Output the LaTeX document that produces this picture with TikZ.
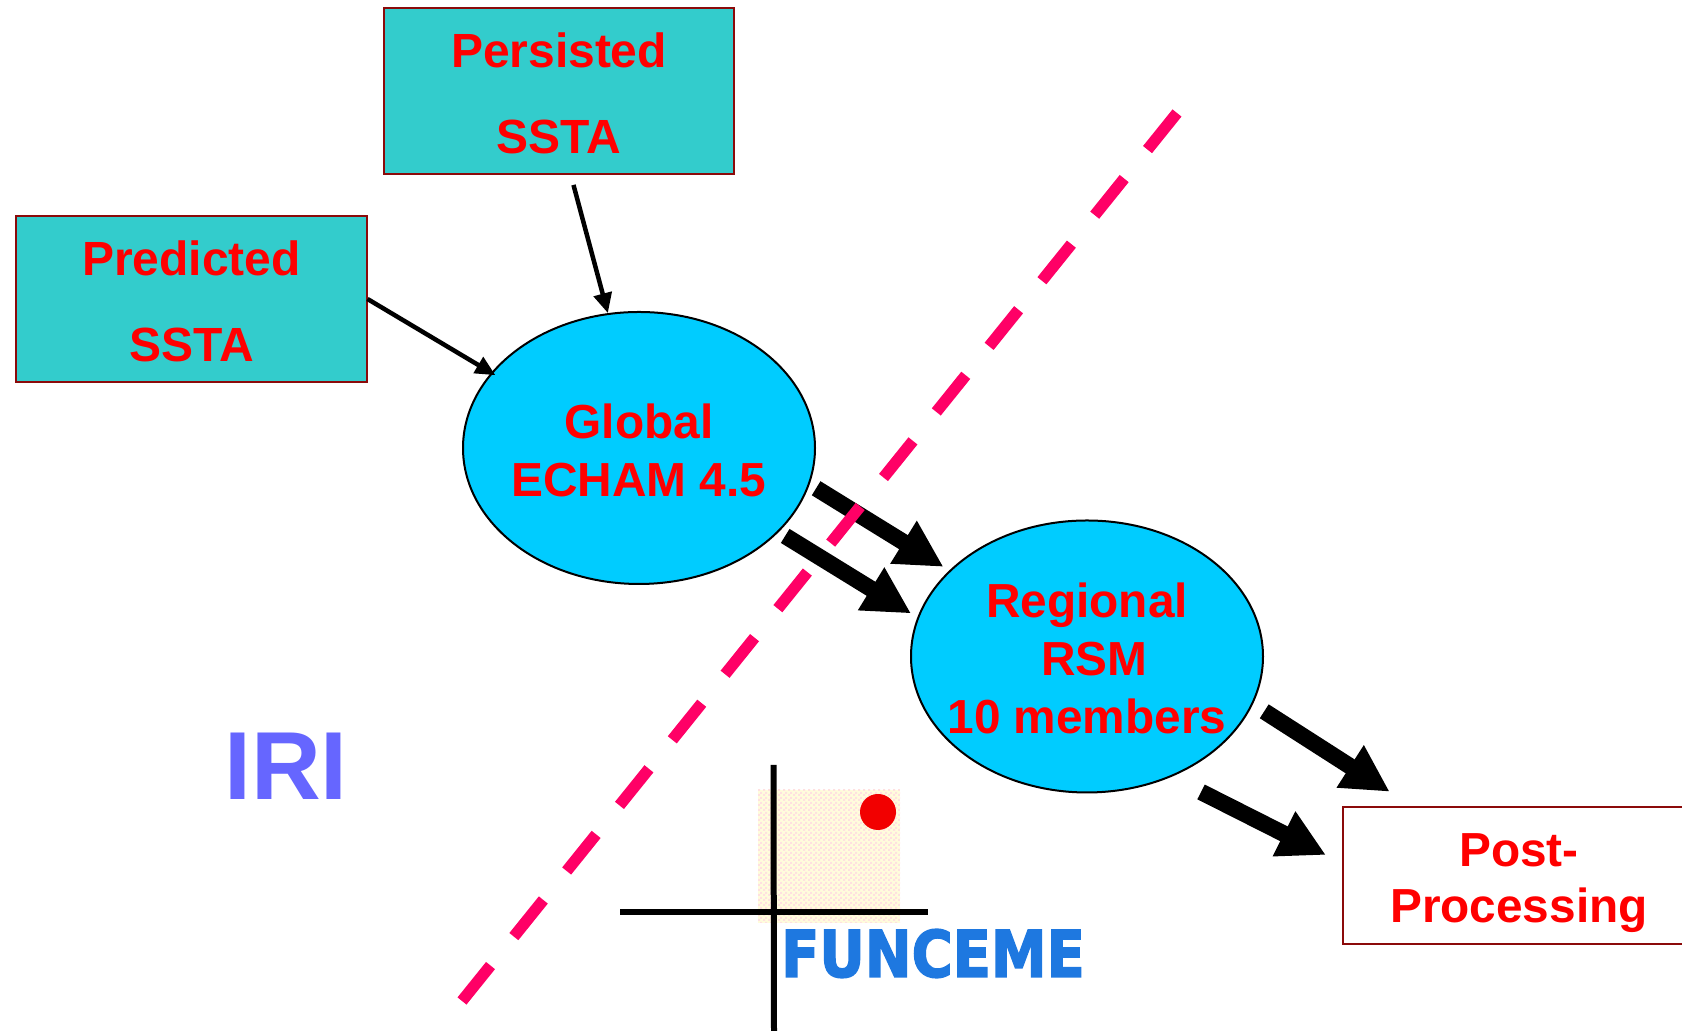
\documentclass[tikz,border=0pt]{standalone}
\usepackage{fontspec}
\setmainfont{Liberation Sans}
\newfontfamily\logofont[BoldFeatures={FakeBold=2.5}]{DejaVu Sans}
\usetikzlibrary{arrows.meta,shapes.geometric,patterns}

\definecolor{boxteal}{HTML}{33CCCC}
\definecolor{boxedge}{HTML}{8B0A0A}
\definecolor{modelblue}{HTML}{00CCFF}
\definecolor{cutpink}{HTML}{FF0066}
\definecolor{iriblue}{HTML}{6666FF}
\definecolor{paperyellow}{HTML}{FFFDDC}
\definecolor{paperpink}{HTML}{FFE0E0}
\definecolor{logoblue}{HTML}{1E78E0}

\pgfdeclarepatternformonly{paperdither}{\pgfqpoint{0pt}{0pt}}{\pgfqpoint{1.3pt}{1.3pt}}{\pgfqpoint{1.3pt}{1.3pt}}{
    \pgfpathrectangle{\pgfqpoint{0pt}{0pt}}{\pgfqpoint{.65pt}{.65pt}}
    \pgfpathrectangle{\pgfqpoint{.65pt}{.65pt}}{\pgfqpoint{.65pt}{.65pt}}
    \pgfusepath{fill}
}

\newcommand{\liftline}[1]{\rule{0pt}{#1}}

\tikzset{
    inputbox/.style={rectangle, draw=boxedge, fill=boxteal, line width=.02cm, minimum width=3.50cm, minimum height=1.66cm, inner sep=0pt, text=red, align=center, font=\bfseries\fontsize{13.65}{24.7}\selectfont},
    postbox/.style={rectangle, draw=boxedge, fill=white, line width=.02cm, minimum width=3.52cm, minimum height=1.37cm, inner sep=0pt, text=red, align=center, font=\bfseries\fontsize{13.6}{16.2}\selectfont},
    model/.style={ellipse, draw=black, fill=modelblue, line width=.02cm, minimum width=3.52cm, minimum height=2.72cm, inner sep=-.6cm, text=red, align=center, font=\bfseries\fontsize{13.6}{16.4}\selectfont},
    thin arrow/.style={-{Triangle[length=.2cm,width=.18cm]}, line width=.045cm},
    fat arrow/.style={-{Triangle[length=.47cm,width=.47cm]}, line width=.165cm},
    cut line/.style={cutpink, line width=.115cm, dash pattern=on .47cm off .372cm},
    logo axis/.style={line width=.06cm}
}

\begin{document}
\begin{tikzpicture}
    \useasboundingbox (0,0) rectangle (16.82,10.31);

    \node[inputbox] (persisted) at (5.59, 9.40) {\liftline{11.2pt}Persisted\\SSTA};
    \node[inputbox] (predicted) at (1.915, 7.32) {\liftline{11.2pt}Predicted\\SSTA};
    \node[model] (global) at (6.39, 5.83) {\liftline{11.1pt}Global\\ECHAM 4.5};
    \node[model] (regional) at (10.87, 3.745) {\liftline{10.9pt}Regional\\\hspace*{.15cm}RSM\\10 members};
    \node[postbox] (post) at (15.19, 1.555) {\liftline{13.7pt}Post-\\Processing};

    \node[text=iriblue, font=\bfseries\fontsize{27.5}{30}\selectfont, inner sep=0pt] (iri) at (2.86, 2.65) {IRI};

    \node[preaction={fill=paperyellow}, pattern=paperdither, pattern color=paperpink, minimum width=1.42cm, minimum height=1.33cm, inner sep=0pt] (paper) at (8.29, 1.745) {};
    \node[circle, fill=red!95!black, minimum size=.36cm, inner sep=0pt] (sun) at (8.78, 2.19) {};
    \node[text=logoblue, font=\logofont\bfseries\fontsize{18.3}{20}\selectfont, xscale=.87, inner sep=0pt] (funceme) at (9.33, .775) {FUNCEME};

    \coordinate (axistop) at (7.735, 2.66);
    \coordinate (axisbottom) at (7.74, 0);
    \coordinate (axisleft) at (6.20, 1.19);
    \coordinate (axisright) at (9.28, 1.19);
    \draw[logo axis] (axistop) -- (axisbottom);
    \draw[logo axis] (axisleft) -- (axisright);

    \draw[thin arrow, shorten <=.103cm] (persisted.-82.5) -- (global.103);
    \draw[thin arrow, shorten >=-.05cm] (predicted.east) -- (global.153);
    \draw[fat arrow, shorten <=.076cm, shorten >=.068cm] (global.-12.3) -- (regional.148.4);
    \draw[fat arrow, shorten <=.075cm, shorten >=.074cm] (global.-31.7) -- (regional.167.9);
    \draw[fat arrow, shorten <=.134cm, shorten >=.264cm] (regional.-16.7) -- (post.147);
    \draw[fat arrow, shorten <=.333cm, shorten >=.18cm] (regional.-55.6) -- (post.176.6);

    \coordinate (cuttop) at (11.77, 9.18);
    \coordinate (cutbottom) at (4.62, .30);
    \draw[cut line] (cuttop) -- (cutbottom);
\end{tikzpicture}
\end{document}
